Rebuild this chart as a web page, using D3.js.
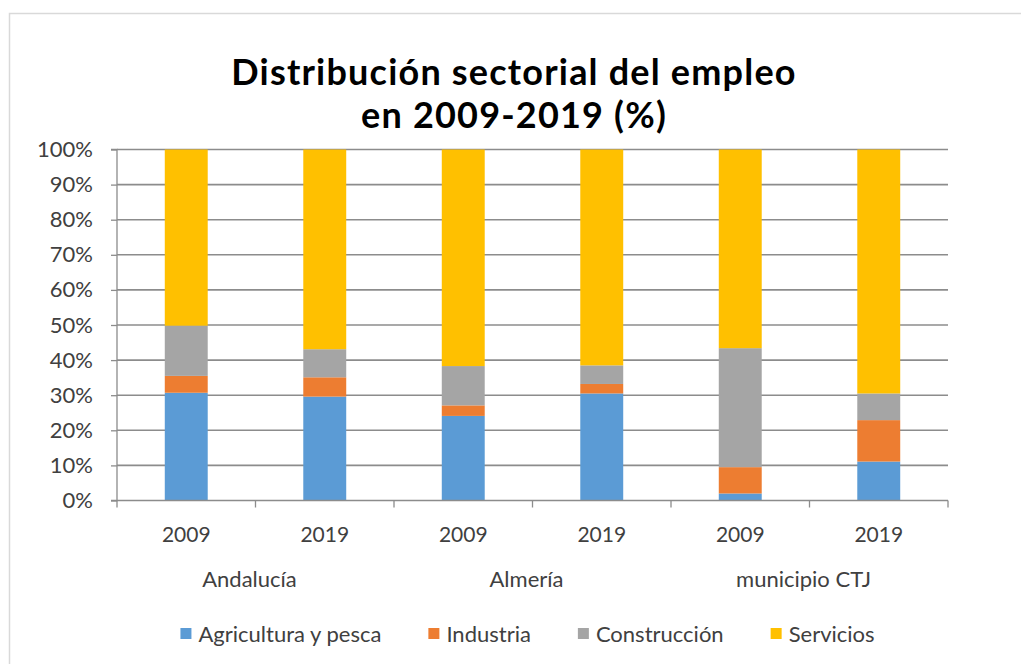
<!DOCTYPE html>
<html>
<head>
<meta charset="utf-8">
<script src="https://cdn.jsdelivr.net/npm/d3@7"></script>
<style>
  body { margin: 0; background: #fff; }
  text { font-family: Lato, "Open Sans", sans-serif; }
</style>
</head>
<body>
<div id="chart"></div>
<script>
// data
const groups = ["Andalucía", "Almería", "municipio CTJ"]
const years = ["2009", "2019"]
const sectors = ["Agricultura y pesca", "Industria", "Construcción", "Servicios"]
const colors = ["#5b9bd5", "#ed7d31", "#a5a5a5", "#ffc000"]
const agricultura = [30.7, 29.6, 24.1, 30.5, 2.0, 11.1]
const industria = [4.8, 5.5, 3.0, 2.7, 7.5, 11.8]
const construccion = [14.3, 8.0, 11.2, 5.3, 33.9, 7.6]
const servicios = [50.2, 56.9, 61.7, 61.5, 56.6, 69.5]
const yTicks = [0, 10, 20, 30, 40, 50, 60, 70, 80, 90, 100]

const W = 1021, H = 664
const MARGIN = { TOP: 149.5, LEFT: 117, RIGHT: 73, BOTTOM: 163.5 }
const WIDTH = W - MARGIN.LEFT - MARGIN.RIGHT
const HEIGHT = H - MARGIN.TOP - MARGIN.BOTTOM

const svg = d3.select("#chart").append("svg")
    .attr("width", W)
    .attr("height", H)

// chart border
svg.append("rect")
    .attr("x", 9.5).attr("y", 13.5)
    .attr("width", 1100).attr("height", 700)
    .attr("fill", "#fff")
    .attr("stroke", "#d9d9d9")
    .attr("stroke-width", 1.5)

// title
svg.append("text")
    .attr("x", 514).attr("y", 85)
    .attr("text-anchor", "middle")
    .attr("font-weight", "bold")
    .attr("font-size", 36)
    .attr("letter-spacing", 1.2)
    .attr("fill", "#000")
    .text("Distribución sectorial del empleo")
svg.append("text")
    .attr("x", 514).attr("y", 128)
    .attr("text-anchor", "middle")
    .attr("font-weight", "bold")
    .attr("font-size", 36)
    .attr("letter-spacing", 1.2)
    .attr("fill", "#000")
    .text("en 2009-2019 (%)")

const g = svg.append("g")
    .attr("transform", `translate(${MARGIN.LEFT}, ${MARGIN.TOP})`)

const bars = []
groups.forEach(gr => years.forEach(yr => bars.push(gr + "|" + yr)))
const rows = bars.map((key, i) => ({
    key,
    "Agricultura y pesca": agricultura[i],
    "Industria": industria[i],
    "Construcción": construccion[i],
    "Servicios": servicios[i]
}))

const x = d3.scaleBand()
    .domain(bars)
    .range([0, WIDTH])
    .paddingInner(0.69)
    .paddingOuter(0.345)

const y = d3.scaleLinear()
    .domain([0, 100])
    .range([HEIGHT, 0])

// gridlines
g.append("g")
    .selectAll("line")
    .data(yTicks.slice(1))
    .enter().append("line")
    .attr("x1", 0).attr("x2", WIDTH)
    .attr("y1", d => y(d)).attr("y2", d => y(d))
    .attr("stroke", "#8c8c8c")
    .attr("stroke-width", 1.6)

// y axis
const yAxis = g.append("g")
    .call(d3.axisLeft(y).tickValues(yTicks).tickSize(6).tickPadding(18).tickFormat(d => d + "%"))
yAxis.selectAll("line, path").attr("stroke", "#8c8c8c").attr("stroke-width", 1.3)
yAxis.select(".domain").attr("d", `M-6,${HEIGHT}H0V0H-6`)
yAxis.selectAll("text")
    .attr("font-size", 22)
    .attr("fill", "#404040")
    .style("font-family", "Lato, sans-serif")

// stacked bars
const stack = d3.stack().keys(sectors)(rows)
g.append("g")
    .selectAll("g")
    .data(stack)
    .enter().append("g")
    .attr("fill", (d, i) => colors[i])
    .selectAll("rect")
    .data(d => d)
    .enter().append("rect")
    .attr("x", d => x(d.data.key))
    .attr("width", x.bandwidth())
    .attr("y", d => y(d[1]))
    .attr("height", d => y(d[0]) - y(d[1]))

// x axis with ticks on the band edges
const step = x.step()
const xAxis = g.append("g").attr("transform", `translate(0, ${HEIGHT})`)
xAxis.append("line")
    .attr("x1", 0).attr("x2", WIDTH)
    .attr("stroke", "#8c8c8c").attr("stroke-width", 1.6)
xAxis.selectAll(".edge")
    .data(d3.range(bars.length + 1))
    .enter().append("line")
    .attr("class", "edge")
    .attr("x1", i => i * step).attr("x2", i => i * step)
    .attr("y1", 0).attr("y2", 7)
    .attr("stroke", "#8c8c8c").attr("stroke-width", 1.3)

xAxis.selectAll(".year")
    .data(bars)
    .enter().append("text")
    .attr("class", "year")
    .attr("x", d => x(d) + x.bandwidth() / 2)
    .attr("y", 41)
    .attr("text-anchor", "middle")
    .attr("font-size", 21)
    .attr("fill", "#404040")
    .text(d => d.split("|")[1])

xAxis.selectAll(".group")
    .data(groups)
    .enter().append("text")
    .attr("class", "group")
    .attr("x", (d, i) => (i * 2 + 1) * step - 6)
    .attr("y", 86)
    .attr("text-anchor", "middle")
    .attr("font-size", 22)
    .attr("fill", "#404040")
    .text(d => d)

// legend
const legend = svg.append("g")
let lx = 0
sectors.forEach((s, i) => {
    const item = legend.append("g").attr("transform", `translate(${lx}, 0)`)
    item.append("rect")
        .attr("x", 0).attr("y", 628)
        .attr("width", 11).attr("height", 11)
        .attr("fill", colors[i])
    const t = item.append("text")
        .attr("x", 18).attr("y", 642)
        .attr("font-size", 22)
        .attr("fill", "#404040")
        .text(s)
    lx += 18 + t.node().getComputedTextLength() + 47
})
const legendWidth = lx - 47
legend.attr("transform", `translate(${MARGIN.LEFT + WIDTH / 2 - legendWidth / 2 - 5}, 0)`)
</script>
</body>
</html>
